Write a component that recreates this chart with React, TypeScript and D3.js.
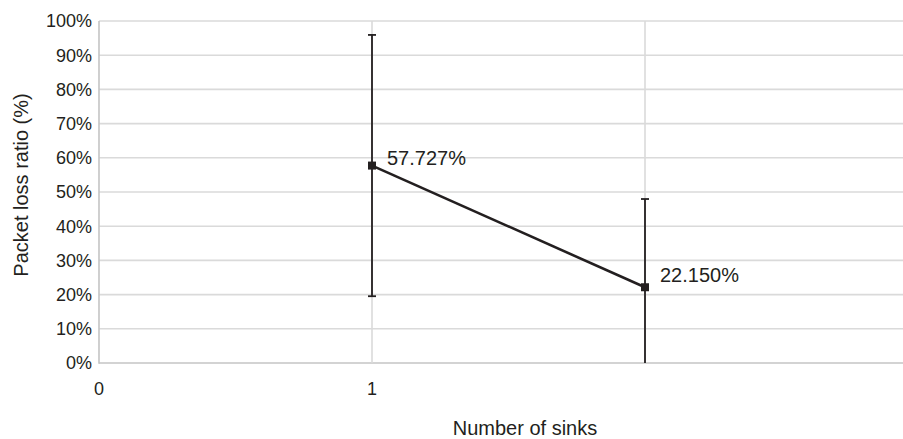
import React from "react";
import * as d3 from "d3";

const sinks = [1, 2];
const lossRatio = [57.727, 22.15];
const errorPlusMinus = [38.2, 25.8];
const valueLabels = ["57.727%", "22.150%"];
const yTicks = [0, 10, 20, 30, 40, 50, 60, 70, 80, 90, 100];
const xTickValues = [0, 1];
const xGridValues = [1, 2, 3];

const W = 903;
const H = 439;
const FONT = "'Liberation Sans', Arial, Helvetica, sans-serif";
const TEXT = "#231f20";

export default function App() {
  const x = d3.scaleLinear().domain([0, 3]).range([99, 918]);
  const y = d3.scaleLinear().domain([0, 100]).range([363, 21]);
  const line = d3
    .line<number>()
    .x((_, i) => x(sinks[i]))
    .y((d) => y(d));
  const labelNudge = [-8, -12];

  return (
    <svg
      width={W}
      height={H}
      style={{ position: "absolute", left: 0, top: 0, background: "#fff" }}
      fontFamily={FONT}
    >
      <rect width={W} height={H} fill="#fff" />
      {yTicks.map((t) => (
        <line
          key={"gy" + t}
          x1={x(0)}
          x2={x(3)}
          y1={y(t)}
          y2={y(t)}
          stroke={t === 0 ? "#c4c4c4" : "#dadada"}
          strokeWidth={1.6}
        />
      ))}
      {xGridValues.map((v) => (
        <line
          key={"gx" + v}
          x1={x(v)}
          x2={x(v)}
          y1={y(100)}
          y2={y(0)}
          stroke="#dadada"
          strokeWidth={1.6}
        />
      ))}
      <line x1={x(0)} x2={x(0)} y1={y(100)} y2={y(0) + 0.8} stroke="#c4c4c4" strokeWidth={1.6} />
      {yTicks.map((t) => (
        <text
          key={"ty" + t}
          x={92}
          y={y(t)}
          dy="0.35em"
          textAnchor="end"
          fontSize={18}
          fill={TEXT}
        >
          {t + "%"}
        </text>
      ))}
      {xTickValues.map((v) => (
        <text
          key={"tx" + v}
          x={x(v)}
          y={388.5}
          dy="0.35em"
          textAnchor="middle"
          fontSize={18}
          fill={TEXT}
        >
          {v}
        </text>
      ))}
      <text x={525} y={428} dy="0.35em" textAnchor="middle" fontSize={20} fill={TEXT}>
        Number of sinks
      </text>
      <text
        transform={`translate(21,185) rotate(-90)`}
        dy="0.35em"
        textAnchor="middle"
        fontSize={20}
        fill={TEXT}
      >
        Packet loss ratio (%)
      </text>
      {sinks.map((s, i) => {
        const hi = Math.min(100, lossRatio[i] + errorPlusMinus[i]);
        const loRaw = lossRatio[i] - errorPlusMinus[i];
        const lo = Math.max(0, loRaw);
        const cx = x(s);
        return (
          <g key={"eb" + s} stroke={TEXT} strokeWidth={1.8}>
            <line x1={cx} x2={cx} y1={y(hi)} y2={y(lo)} />
            <line x1={cx - 4} x2={cx + 4} y1={y(hi)} y2={y(hi)} />
            {loRaw >= 0 && <line x1={cx - 4} x2={cx + 4} y1={y(lo)} y2={y(lo)} />}
          </g>
        );
      })}
      <path d={line(lossRatio) || ""} fill="none" stroke={TEXT} strokeWidth={2.6} />
      {sinks.map((s, i) => (
        <rect
          key={"m" + s}
          x={x(s) - 4}
          y={y(lossRatio[i]) - 4}
          width={8}
          height={8}
          fill={TEXT}
        />
      ))}
      {sinks.map((s, i) => (
        <text
          key={"lbl" + s}
          x={x(s) + 15}
          y={y(lossRatio[i]) + labelNudge[i]}
          dy="0.35em"
          fontSize={20}
          fill={TEXT}
        >
          {valueLabels[i]}
        </text>
      ))}
    </svg>
  );
}
